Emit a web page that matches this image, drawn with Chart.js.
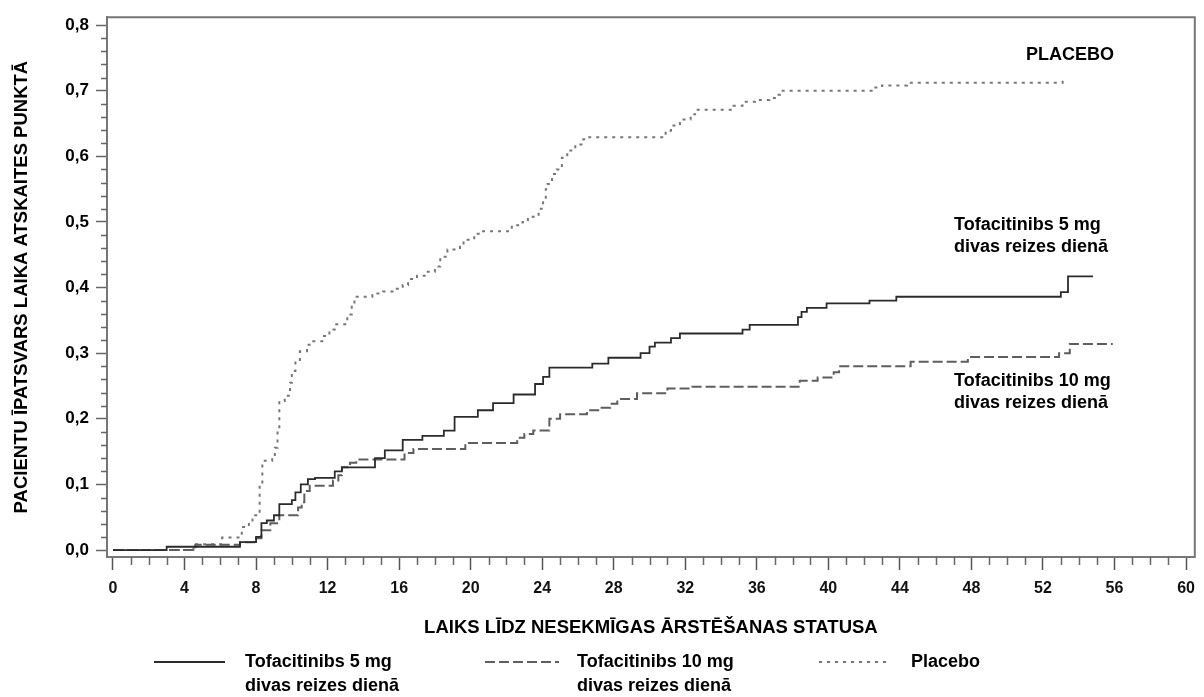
<!DOCTYPE html>
<html>
<head>
<meta charset="utf-8">
<script src="https://cdn.jsdelivr.net/npm/chart.js@4.4.1/dist/chart.umd.min.js"></script>
<style>
  html, body { margin: 0; padding: 0; background: #ffffff; }
  #wrap { width: 1204px; height: 697px; position: relative; }
</style>
</head>
<body>
<div id="wrap"><canvas id="c" width="1204" height="697"></canvas></div>
<script>
// ---------------- DATA ----------------
// Tofacitinibs 5 mg divas reizes dienā (time in weeks, cumulative proportion)
const weeks5 = [0, 3, 7.1, 8, 8.3, 8.6, 9.0, 9.3, 10.0, 10.2, 10.5, 10.9, 11.3, 12.4, 12.8, 14.65, 15.2, 16.2, 17.3, 18.5, 19.1, 20.4, 21.25, 22.4, 23.6, 24.05, 24.4, 26.8, 27.7, 29.5, 30.0, 30.3, 31.2, 31.7, 35.2, 35.6, 38.3, 38.5, 38.8, 39.9, 42.3, 43.8, 53.0, 53.4, 54.8];
const values5 = [0, 0.005, 0.012, 0.02, 0.041, 0.045, 0.053, 0.07, 0.076, 0.088, 0.10, 0.108, 0.11, 0.12, 0.126, 0.14, 0.152, 0.168, 0.174, 0.182, 0.203, 0.213, 0.224, 0.237, 0.253, 0.264, 0.278, 0.284, 0.293, 0.30, 0.31, 0.316, 0.323, 0.33, 0.336, 0.343, 0.355, 0.363, 0.369, 0.376, 0.38, 0.386, 0.393, 0.417, 0.417];

// Tofacitinibs 10 mg divas reizes dienā
const weeks10 = [0, 4.6, 7.1, 8.0, 8.3, 8.8, 9.3, 10.35, 10.55, 10.7, 11.0, 12.3, 12.6, 12.8, 13.25, 13.6, 16.3, 16.8, 19.7, 22.6, 23.0, 23.5, 24.4, 25.0, 26.5, 27.2, 27.8, 28.2, 29.3, 31.0, 32.4, 38.4, 39.4, 40.3, 40.6, 44.6, 47.8, 52.9, 53.5, 55.9];
const values10 = [0, 0.008, 0.012, 0.018, 0.03, 0.041, 0.053, 0.065, 0.073, 0.09, 0.098, 0.106, 0.114, 0.126, 0.133, 0.138, 0.148, 0.154, 0.163, 0.171, 0.177, 0.182, 0.20, 0.207, 0.213, 0.217, 0.223, 0.23, 0.239, 0.246, 0.249, 0.258, 0.263, 0.271, 0.28, 0.287, 0.294, 0.30, 0.314, 0.314];

// Placebo
const weeksPbo = [0, 4.5, 6.1, 7.2, 7.6, 7.8, 8.2, 8.35, 8.9, 9.05, 9.2, 9.3, 9.6, 9.9, 10.0, 10.2, 10.45, 10.85, 11.1, 11.7, 12.1, 12.4, 13.1, 13.35, 13.5, 14.5, 15.1, 15.7, 16.2, 16.5, 17.0, 17.6, 18.0, 18.3, 18.7, 19.4, 19.6, 20.2, 20.6, 22.3, 22.9, 23.2, 23.8, 24.05, 24.2, 24.3, 24.55, 24.8, 25.1, 25.4, 25.85, 26.3, 26.5, 30.9, 31.2, 31.7, 32.3, 32.55, 34.7, 35.2, 35.9, 36.7, 37.1, 37.3, 42.5, 43.0, 44.4, 53.1, 53.2];
const valuesPbo = [0, 0.009, 0.019, 0.035, 0.042, 0.053, 0.10, 0.136, 0.141, 0.156, 0.182, 0.227, 0.235, 0.255, 0.273, 0.288, 0.303, 0.313, 0.318, 0.326, 0.336, 0.344, 0.359, 0.374, 0.386, 0.391, 0.394, 0.398, 0.404, 0.413, 0.418, 0.424, 0.432, 0.447, 0.458, 0.462, 0.473, 0.482, 0.486, 0.495, 0.50, 0.508, 0.52, 0.533, 0.55, 0.558, 0.573, 0.58, 0.598, 0.609, 0.618, 0.626, 0.629, 0.639, 0.647, 0.656, 0.664, 0.671, 0.677, 0.683, 0.686, 0.689, 0.694, 0.70, 0.705, 0.708, 0.712, 0.717, 0.717];

// Tick labels
const xTickValues = [0, 4, 8, 12, 16, 20, 24, 28, 32, 36, 40, 44, 48, 52, 56, 60];
const yTickValues = [0, 0.1, 0.2, 0.3, 0.4, 0.5, 0.6, 0.7, 0.8];

// Texts
const seriesLabels = ['Tofacitinibs 5 mg divas reizes dienā', 'Tofacitinibs 10 mg divas reizes dienā', 'Placebo'];
const legendTexts = [['Tofacitinibs 5 mg', 'divas reizes dienā'], ['Tofacitinibs 10 mg', 'divas reizes dienā'], ['Placebo']];
const xTitle = 'LAIKS LĪDZ NESEKMĪGAS ĀRSTĒŠANAS STATUSA';
const yTitle = 'PACIENTU ĪPATSVARS LAIKA ATSKAITES PUNKTĀ';
const annotationTexts = [['PLACEBO'], ['Tofacitinibs 5 mg', 'divas reizes dienā'], ['Tofacitinibs 10 mg', 'divas reizes dienā']];

// ---------------- LAYOUT / STYLE ----------------
const FONT = '"Liberation Sans", Arial, Helvetica, sans-serif';
const annotationPos = [{ x: 1026, y: 55 }, { x: 954, y: 225 }, { x: 954, y: 381 }];
const legendPos = [
  { x1: 154, x2: 225, tx: 245 },
  { x1: 485, x2: 559, tx: 577 },
  { x1: 819, x2: 891, tx: 911 }
];
const legendY = 662, legendLineGap = 24;

function toPoints(xs, ys) { return xs.map((x, i) => ({ x: x, y: ys[i] })); }

const decor = {
  id: 'decor',
  afterDraw(chart) {
    const { ctx, chartArea: a, scales } = chart;
    const xs = scales.x, ys = scales.y;
    ctx.save();
    // top and right frame
    ctx.strokeStyle = '#777';
    ctx.lineWidth = 2;
    ctx.setLineDash([]);
    ctx.beginPath();
    ctx.moveTo(a.left - 1, a.top);
    ctx.lineTo(a.right, a.top);
    ctx.lineTo(a.right, a.bottom + 1);
    ctx.stroke();
    // minor ticks
    ctx.strokeStyle = '#666';
    ctx.lineWidth = 1.5;
    ctx.beginPath();
    for (let v = 1; v < 60; v++) {
      if (v % 4 === 0) continue;
      const px = Math.round(xs.getPixelForValue(v)) + 0.5;
      ctx.moveTo(px, a.bottom);
      ctx.lineTo(px, a.bottom + 8);
    }
    for (let i = 1; i < 40; i++) {
      if (i % 5 === 0) continue;
      const py = Math.round(ys.getPixelForValue(i * 0.02)) + 0.5;
      ctx.moveTo(a.left, py);
      ctx.lineTo(a.left - 6, py);
    }
    ctx.stroke();

    // annotations
    ctx.fillStyle = '#000';
    ctx.font = 'bold 18px ' + FONT;
    ctx.textBaseline = 'middle';
    ctx.textAlign = 'left';
    annotationTexts.forEach((lines, i) => {
      lines.forEach((t, j) => ctx.fillText(t, annotationPos[i].x, annotationPos[i].y + j * 22));
    });

    // legend
    chart.data.datasets.forEach((ds, i) => {
      const p = legendPos[i];
      ctx.strokeStyle = ds.borderColor;
      ctx.lineWidth = ds.borderWidth;
      ctx.setLineDash(ds.borderDash || []);
      ctx.beginPath();
      ctx.moveTo(p.x1, legendY);
      ctx.lineTo(p.x2, legendY);
      ctx.stroke();
      ctx.setLineDash([]);
      legendTexts[i].forEach((t, j) => ctx.fillText(t, p.tx, legendY + j * legendLineGap));
    });
    ctx.restore();
  }
};

new Chart(document.getElementById('c'), {
  type: 'line',
  data: {
    datasets: [
      { label: seriesLabels[0], data: toPoints(weeks5, values5), borderColor: '#2b2b2b', borderWidth: 1.8, borderDash: [], stepped: 'before', pointRadius: 0, fill: false },
      { label: seriesLabels[1], data: toPoints(weeks10, values10), borderColor: '#5e5e5e', borderWidth: 2, borderDash: [10, 4], stepped: 'before', pointRadius: 0, fill: false },
      { label: seriesLabels[2], data: toPoints(weeksPbo, valuesPbo), borderColor: '#777777', borderWidth: 2, borderDash: [3, 5], stepped: 'before', pointRadius: 0, fill: false }
    ]
  },
  options: {
    responsive: false,
    devicePixelRatio: 1,
    animation: false,
    events: [],
    layout: { padding: { top: 14, right: 7, bottom: 58, left: 0 } },
    plugins: { legend: { display: false }, tooltip: { enabled: false }, title: { display: false } },
    scales: {
      x: {
        type: 'linear',
        min: -0.335,
        max: 60.49,
        afterBuildTicks: (s) => { s.ticks = xTickValues.map(v => ({ value: v })); },
        afterFit: (s) => { s.height = 82; },
        border: { display: true, color: '#777', width: 2 },
        grid: { drawOnChartArea: false, drawTicks: true, tickLength: 13, tickColor: '#555', tickWidth: 1.5 },
        ticks: { padding: 9, color: '#111', font: { family: FONT, size: 16, weight: 'bold' }, maxRotation: 0, autoSkip: false, callback: (v) => String(v) },
        title: { display: true, text: xTitle, color: '#000', font: { family: FONT, size: 18.5, weight: 'bold' }, padding: { top: 0, bottom: 0 } }
      },
      y: {
        type: 'linear',
        min: -0.0106,
        max: 0.812,
        afterBuildTicks: (s) => { s.ticks = yTickValues.map(v => ({ value: v })); },
        afterFit: (s) => { s.width = 107; },
        border: { display: true, color: '#777', width: 2 },
        grid: { drawOnChartArea: false, drawTicks: true, tickLength: 11, tickColor: '#666', tickWidth: 1.5 },
        ticks: { padding: 7, color: '#000', font: { family: FONT, size: 17, weight: 'bold' }, callback: (v) => v.toFixed(1).replace('.', ',') },
        title: { display: true, text: yTitle, color: '#000', font: { family: FONT, size: 18.5, weight: 'bold' }, padding: { top: 11, bottom: 0 } }
      }
    }
  },
  plugins: [decor]
});
</script>
</body>
</html>
